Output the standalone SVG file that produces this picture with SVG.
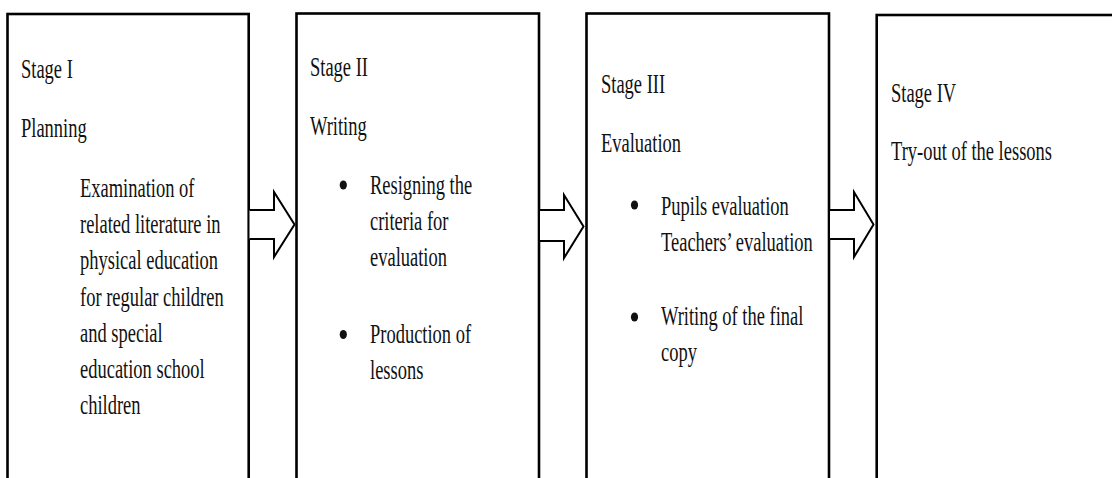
<svg xmlns="http://www.w3.org/2000/svg" width="1112" height="478" viewBox="0 0 1112 478">
<style>
.box{fill:#fff;stroke:#000;stroke-width:2.6}
.arrow{fill:#fff;stroke:#000;stroke-width:2;stroke-linejoin:miter}
.t{font-family:"Liberation Serif","Times New Roman",serif;font-size:28px;fill:#111}
.b{fill:#111}
</style>
<rect width="1112" height="478" fill="#fff"/>
<g id="stage1">
<rect class="box" x="7.5" y="14" width="241.2" height="490"/>
<text class="t" transform="translate(21 78) scale(0.66 1)">Stage I</text>
<text class="t" transform="translate(21 137) scale(0.66 1)">Planning</text>
<text class="t" transform="translate(80 197) scale(0.66 1)">Examination of</text>
<text class="t" transform="translate(80 233.2) scale(0.66 1)">related literature in</text>
<text class="t" transform="translate(80 269.3) scale(0.66 1)">physical education</text>
<text class="t" transform="translate(80 305.5) scale(0.66 1)">for regular children</text>
<text class="t" transform="translate(80 341.7) scale(0.66 1)">and special</text>
<text class="t" transform="translate(80 377.8) scale(0.66 1)">education school</text>
<text class="t" transform="translate(80 414) scale(0.66 1)">children</text>
</g>
<g id="stage2">
<rect class="box" x="296.5" y="13.5" width="242.5" height="490"/>
<text class="t" transform="translate(310 76) scale(0.66 1)">Stage II</text>
<text class="t" transform="translate(310 135) scale(0.66 1)">Writing</text>
<ellipse class="b" cx="343.3" cy="185" rx="3.6" ry="4.6"/>
<text class="t" transform="translate(370 194) scale(0.66 1)">Resigning the</text>
<text class="t" transform="translate(370 230) scale(0.66 1)">criteria for</text>
<text class="t" transform="translate(370 266) scale(0.66 1)">evaluation</text>
<ellipse class="b" cx="343.3" cy="334.5" rx="3.6" ry="4.6"/>
<text class="t" transform="translate(370 342.5) scale(0.66 1)">Production of</text>
<text class="t" transform="translate(370 378.5) scale(0.66 1)">lessons</text>
</g>
<g id="stage3">
<rect class="box" x="586.5" y="13.5" width="242.5" height="490"/>
<text class="t" transform="translate(601 93) scale(0.66 1)">Stage III</text>
<text class="t" transform="translate(601 152) scale(0.66 1)">Evaluation</text>
<ellipse class="b" cx="634.5" cy="205" rx="3.6" ry="4.6"/>
<text class="t" transform="translate(661 214.5) scale(0.66 1)">Pupils evaluation</text>
<text class="t" transform="translate(661 250.5) scale(0.66 1)">Teachers’ evaluation</text>
<ellipse class="b" cx="634.5" cy="317" rx="3.6" ry="4.6"/>
<text class="t" transform="translate(661 325) scale(0.66 1)">Writing of the final</text>
<text class="t" transform="translate(661 361) scale(0.66 1)">copy</text>
</g>
<g id="stage4">
<rect class="box" x="876.7" y="15" width="260" height="490"/>
<text class="t" transform="translate(891 102) scale(0.66 1)">Stage IV</text>
<text class="t" transform="translate(891 160) scale(0.66 1)">Try-out of the lessons</text>
</g>
<g id="connectors">
<path class="arrow" d="M249.5,210 L274,210 L274,192 L294.5,224.5 L274,257 L274,239 L249.5,239"/>
<path class="arrow" d="M540,210 L564,210 L564,195 L583.5,226.5 L564,258 L564,241 L540,241"/>
<path class="arrow" d="M830,210 L854,210 L854,192 L873.5,224.5 L854,257 L854,239 L830,239"/>
</g>
</svg>
